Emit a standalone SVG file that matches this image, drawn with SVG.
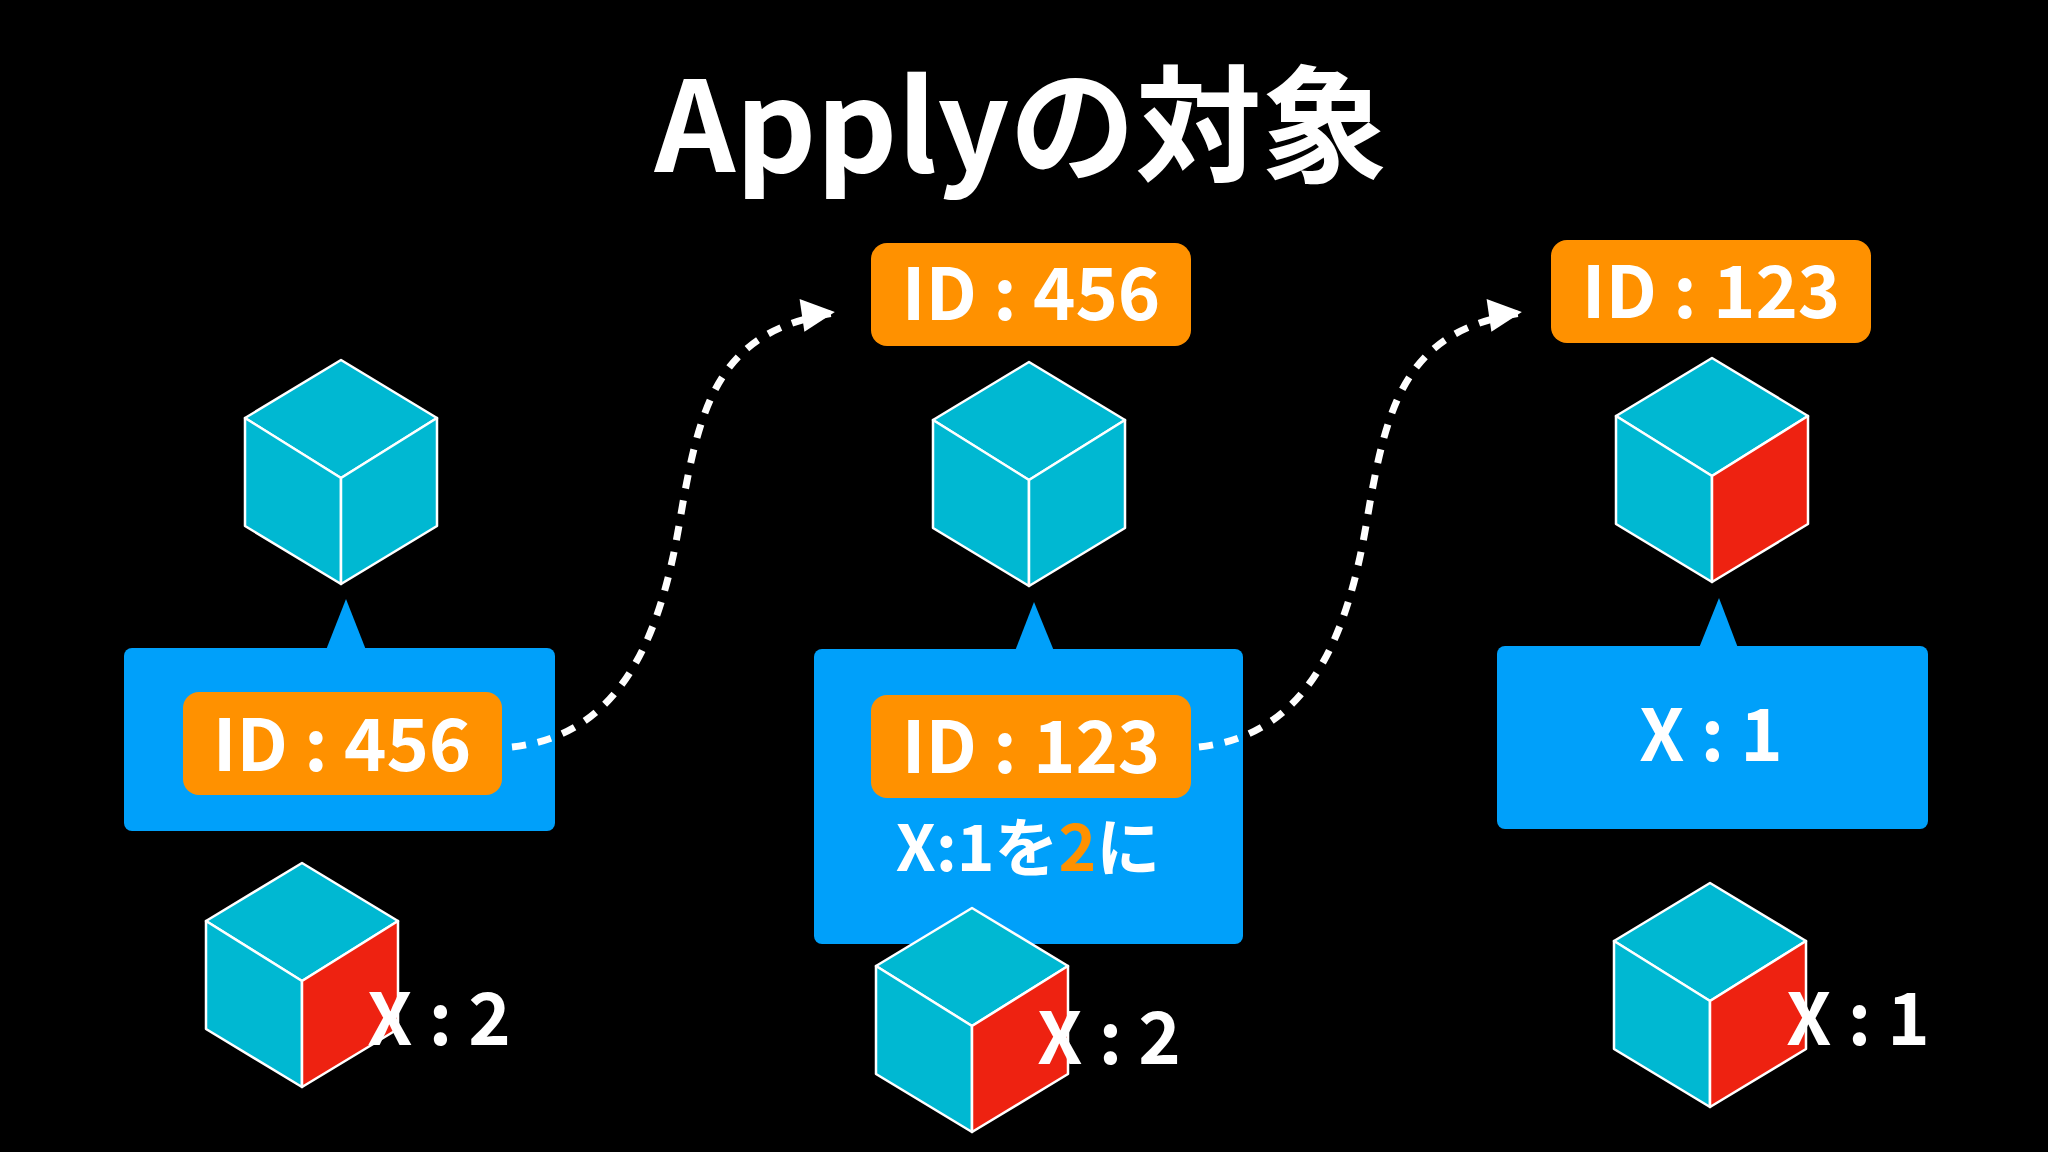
<svg xmlns="http://www.w3.org/2000/svg" width="2048" height="1152" viewBox="0 0 2048 1152">
<style>
text{font-family:"Noto Sans CJK JP","Noto Sans",sans-serif;font-weight:bold;fill:#fff;text-anchor:middle}
.t{font-size:126px}
.l{font-size:72px}
.m{font-size:64px}
.blue{fill:#00a0fa}
.org{fill:#ff9100}
.conn{fill:none;stroke:#fff;stroke-width:7;stroke-dasharray:14 12}
.f{fill:#00b8d2;stroke:#fff;stroke-width:2.5;stroke-linejoin:round}
.r{fill:#ee2211;stroke:#fff;stroke-width:2.5;stroke-linejoin:round}
</style>
<defs>
<marker id="ah" markerWidth="10" markerHeight="10" refX="9" refY="5" orient="auto" markerUnits="userSpaceOnUse" viewBox="0 0 10 10" style="overflow:visible">
<path d="M-24,-13 L9,5 L-24,20 Z" fill="#fff" transform="translate(0,-1)"/>
</marker>
<g id="cubeC">
<path class="f" d="M0,0 L96,58 L0,118 L-96,58 Z"/>
<path class="f" d="M-96,58 L0,118 L0,224 L-96,166 Z"/>
<path class="f" d="M96,58 L0,118 L0,224 L96,166 Z"/>
</g>
<g id="cubeR">
<path class="f" d="M0,0 L96,58 L0,118 L-96,58 Z"/>
<path class="f" d="M-96,58 L0,118 L0,224 L-96,166 Z"/>
<path class="r" d="M96,58 L0,118 L0,224 L96,166 Z"/>
</g>
</defs>
<rect width="2048" height="1152" fill="#000"/>
<text id="title" class="t" x="1021" y="172">Applyの対象</text>

<g id="left">
<use href="#cubeC" x="341" y="360"/>
<path class="blue" d="M326,650 L346,599 L366,650 Z"/>
<rect class="blue" x="124" y="648" width="431" height="183" rx="8"/>
<rect class="org" x="183" y="692" width="319" height="103" rx="16"/>
<text class="l" x="342" y="771">ID : 456</text>
<use href="#cubeR" x="302" y="863"/>
<text class="l" x="439" y="1045">X : 2</text>
</g>

<g id="middle">
<rect class="org" x="871" y="243" width="320" height="103" rx="16"/>
<text class="l" x="1031" y="320">ID : 456</text>
<use href="#cubeC" x="1029" y="362"/>
<path class="blue" d="M1015,651 L1034,602 L1054,651 Z"/>
<rect class="blue" x="814" y="649" width="429" height="295" rx="8"/>
<rect class="org" x="871" y="695" width="320" height="103" rx="16"/>
<text class="l" x="1031" y="773">ID : 123</text>
<text class="m" x="1028" y="871">X:1を<tspan fill="#ff9100" style="fill:#ff9100">2</tspan>に</text>
<use href="#cubeR" x="972" y="908"/>
<text class="l" x="1109" y="1064">X : 2</text>
</g>

<g id="right">
<rect class="org" x="1551" y="240" width="320" height="103" rx="16"/>
<text class="l" x="1711" y="318">ID : 123</text>
<use href="#cubeR" x="1712" y="358"/>
<path class="blue" d="M1699,648 L1719,598 L1738,648 Z"/>
<rect class="blue" x="1497" y="646" width="431" height="183" rx="8"/>
<text class="l" x="1711" y="761">X : 1</text>
<use href="#cubeR" x="1710" y="883"/>
<text class="l" x="1858" y="1045">X : 1</text>
</g>

<g id="connectors">
<path class="conn" d="M512,747 C620,735 660,640 680,520 S720,330 835,313" marker-end="url(#ah)"/>
<path class="conn" d="M1199,747 C1307,735 1347,640 1367,520 S1407,330 1522,313" marker-end="url(#ah)"/>
</g>
</svg>
